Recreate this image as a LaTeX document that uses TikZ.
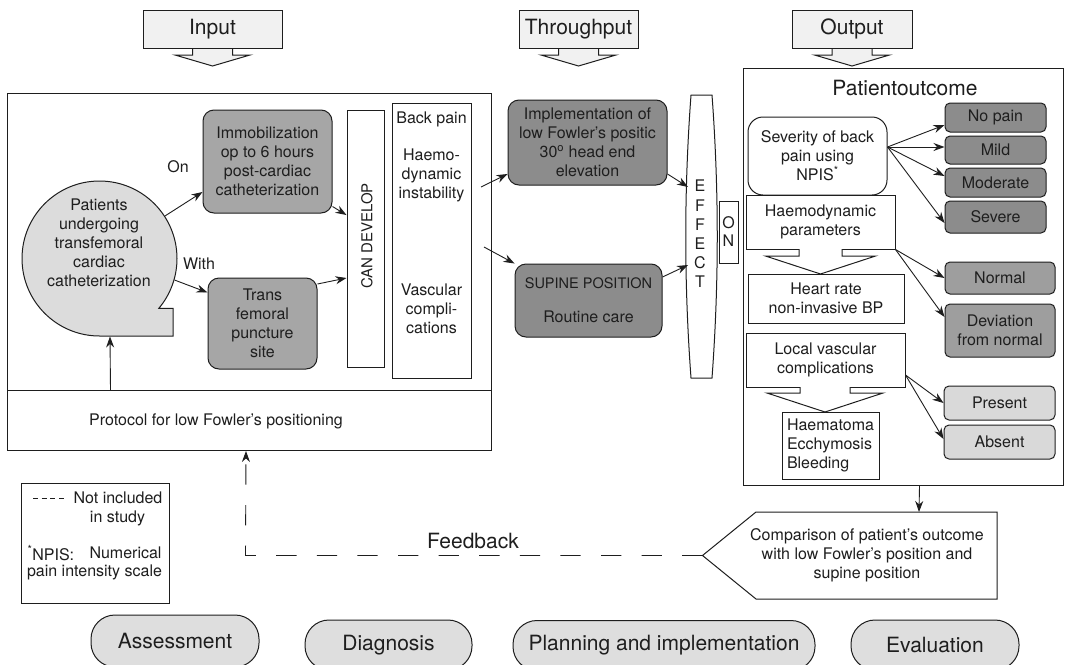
\documentclass[tikz,border=0pt]{standalone}
\usepackage{fontspec}
\setmainfont{TeX Gyre Heros}
\usetikzlibrary{arrows.meta}
\definecolor{ink}{HTML}{1E1E1E}
\definecolor{headfill}{HTML}{F1F1F1}
\definecolor{patfill}{HTML}{DCDCDC}
\definecolor{midfill}{HTML}{A6A6A6}
\definecolor{darkfill}{HTML}{8C8C8C}
\definecolor{normfill}{HTML}{9E9E9E}
\definecolor{lightfill}{HTML}{D9D9D9}
\definecolor{ovalfill}{HTML}{DEDEDE}
\tikzset{
  body/.style={font=\fontsize{16}{19}\selectfont, align=center, inner sep=0pt, text=ink},
  headtext/.style={font=\fontsize{21}{25}\selectfont, inner sep=0pt, text=ink},
  sz/.style 2 args={minimum width=#1pt, minimum height=#2pt},
  plainbox/.style={body, draw=ink, rectangle, fill=white},
  rbox/.style={plainbox, rounded corners=#1},
  rbox/.default=11pt,
  oval/.style={headtext, draw=ink, fill=ovalfill, rounded corners=24pt},
  conn/.style={draw=ink, line width=0.9pt, -{Stealth[length=11pt,width=8pt]}},
  blockarrow/.style={draw=ink, fill=white},
}
\begin{document}
\begin{tikzpicture}[x=1pt, y=-1pt, color=ink, line width=1pt]
\fill[white] (0,0) rectangle (1065,664);
\useasboundingbox (0,0) rectangle (1065,664);

% ---- phase headings with their down arrows
\foreach \cx/\w/\txt/\nm in {212.5/139/Input/hin, 578.5/119/Throughput/hthr, 852/120/Output/hout} {
  \draw[fill=headfill] (\cx-20,47) -- (\cx-20,55) -- (\cx-37.5,55) -- (\cx,66) -- (\cx+37.5,55) -- (\cx+20,55) -- (\cx+20,47);
  \node[headtext, draw, fill=headfill, sz={\w}{38}] (\nm) at (\cx,29) {\txt};
}

% ---- input frame
\node[draw, sz={484}{357}, anchor=north west, inner sep=0pt] (inframe) at (7,93) {};
\node[draw, sz={484}{60}, anchor=north west, inner sep=0pt] (protocol) at (7,390) {};
\node[body] at (216,421) {Protocol for low Fowler’s positioning};

% patients (circle with a tail)
\node[circle, minimum size=155pt, inner sep=0pt] (pat) at (99.5,258.5) {};
\draw[fill=patfill] (99.5,336) arc[start angle=90, end angle=400, radius=77.5] -- (173,308.3) -- (173,336) -- cycle;
\node[body] at (99,243) {Patients\\undergoing\\transfemoral\\cardiac\\catheterization};

\node[rbox, fill=midfill, sz={129}{103}] (immob) at (267.5,161.5) {Immobilization\\op to 6 hours\\post-cardiac\\catheterization};
\node[rbox, fill=midfill, sz={109}{91}] (trans) at (262.5,323.5) {Trans\\femoral\\puncture\\site};
\node[body] at (178,167) {On};
\node[body] at (199,264) {With};

\node[plainbox, sz={37}{257}] (can) at (365.5,238.5) {};
\node[rotate=90, font=\fontsize{15}{18}\selectfont, inner sep=0pt] at (367,236) {CAN DEVELOP};

\node[plainbox, sz={79}{275}] (bp) at (431.5,240.5) {};
\node[body] at (431.5,119) {Back pain};
\node[body] at (431.5,175) {Haemo-\\dynamic\\instability};
\node[body] at (431.5,308.5) {Vascular\\compli-\\cations};

\draw[conn] (pat.33) -- ([yshift=-30.5pt]immob.west);
\draw[conn] (pat.-16) -- ([yshift=31pt]trans.west);
\draw[conn] ([yshift=-45pt]immob.east) -- ([yshift=23.5pt]can.west);
\draw[conn] ([yshift=39.5pt]trans.east) -- ([yshift=-39.5pt]can.west);
\draw[conn] ([xshift=-139pt]protocol.north) -- ([xshift=10.5pt]pat.south);

% ---- throughput
\node[rbox, fill=darkfill, sz={159}{85}] (impl) at (587.5,142.5) {Implementation of\\low Fowler’s positic\\30\textsuperscript{o} head end\\elevation};
\node[rbox, fill=darkfill, sz={147}{73}] (supine) at (588.5,300.5) {{\fontsize{14.5}{17}\selectfont SUPINE POSITION}\\[15pt]Routine care};

\coordinate (bpa) at (481,187);
\coordinate (bpb) at (484,247);
\draw[conn] (bpa) -- ([yshift=-31.5pt]impl.west);
\draw[conn] (bpb) -- (supine.north west);

\node[minimum width=26pt, minimum height=283pt, inner sep=0pt] (effect) at (701.5,236.5) {};
\draw[fill=white] (691,95) -- (712,95) .. controls (719,190) and (719,283) .. (712,378) -- (691,378) .. controls (684,283) and (684,190) .. (691,95) -- cycle;
\node[body, font=\fontsize{16}{19.2}\selectfont] at (700,234) {E\\F\\F\\E\\C\\T};
\node[plainbox, sz={19}{62}, font=\fontsize{16}{18}\selectfont] (on) at (728.5,232) {O\\N};

\draw[conn] ([yshift=-31.5pt]impl.east) -- ([yshift=49.5pt]effect.west);
\draw[conn] ([yshift=23.5pt]supine.east) -- ([yshift=-28.5pt]effect.west);

% ---- output frame
\node[draw, sz={320}{417}, anchor=north west, inner sep=0pt] (outframe) at (743,68) {};
\node[headtext] at (905,88) {Patientoutcome};

\node[rbox=15pt, sz={139}{78}] (sev) at (817.5,156) {Severity of back\\pain using\\NPIS\textsuperscript{*}};
\node[plainbox, sz={149}{54}] (hp) at (820.5,222) {Haemodynamic\\parameters};
\draw[blockarrow] (799,249) -- (799,256) -- (765.5,256) -- (820.5,274) -- (875.5,256) -- (842,256) -- (842,249);
\node[plainbox, sz={156}{49}] (hr) at (826,298.5) {Heart rate\\non-invasive BP};
\node[plainbox, sz={159}{54}] (lv) at (825.5,360) {Local vascular\\complications};
\draw[blockarrow] (800,387) -- (800,393) -- (767,393) -- (825,412) -- (883,393) -- (850,393) -- (850,387);
\node[plainbox, sz={97}{67}, align=left] (haem) at (830.5,445.5) {Haematoma\\Ecchymosis\\Bleeding};

\node[rbox=5pt, fill=darkfill, sz={101}{29}] (nopain) at (995.5,117.5) {No pain};
\node[rbox=5pt, fill=darkfill, sz={101}{28}] (mild) at (995.5,150) {Mild};
\node[rbox=5pt, fill=darkfill, sz={101}{29}] (moderate) at (995.5,182.5) {Moderate};
\node[rbox=5pt, fill=darkfill, sz={101}{32}] (severe) at (995.5,217) {Severe};
\node[rbox=5pt, fill=normfill, sz={110}{32}] (normal) at (1000,278) {Normal};
\node[rbox=5pt, fill=normfill, sz={110}{53}] (dev) at (1000,330.5) {Deviation\\from normal};
\node[rbox=5pt, fill=lightfill, sz={111}{34}] (present) at (999.5,403) {Present};
\node[rbox=5pt, fill=lightfill, sz={111}{34}] (absent) at (999.5,442) {Absent};

\draw[conn] ([yshift=9pt]sev.east) -- ([yshift=-7.5pt]nopain.west);
\draw[conn] ([yshift=9pt]sev.east) -- ([yshift=3pt]mild.west);
\draw[conn] ([yshift=9pt]sev.east) -- ([yshift=6.5pt]moderate.west);
\draw[conn] ([yshift=9pt]sev.east) -- ([yshift=-6pt]severe.west);
\draw[conn] (hp.south east) -- (normal.west);
\draw[conn] (hp.south east) -- ([yshift=13.5pt]dev.west);
\draw[conn] ([yshift=-15pt]lv.east) -- (present.west);
\draw[conn] ([yshift=-15pt]lv.east) -- ([yshift=3pt]absent.west);

% ---- comparison and feedback
\draw[fill=white] (702.5,555.5) -- (756,512) -- (997,512) -- (997,599) -- (756,599) -- cycle;
\coordinate (cmptip) at (702.5,555.5);
\coordinate (cmptop) at (919,512);
\node[body] (cmp) at (867,555) {Comparison of patient’s outcome\\with low Fowler’s position and\\supine position};
\draw[conn] ([xshift=16pt]outframe.south) -- (cmptop);

\draw[conn, dash pattern=on 20.3pt off 20.3pt] (cmptip) -- (245.5,555.5) -- ([xshift=-3.5pt]protocol.south);
\node[headtext] at (473,541) {Feedback};

% ---- legend
\node[draw, sz={148}{120}, inner sep=0pt] (legend) at (95,543) {};
\draw[line width=0.8pt, dash pattern=on 5pt off 3.7pt] (33,498) -- (64,498);
\node[body] at (118,498) {Not included};
\node[body] at (117.5,518) {in study};
\node[body, anchor=west] at (27,553) {\textsuperscript{*}NPIS:};
\node[body, anchor=east] at (162,553) {Numerical};
\node[body] at (94.5,572) {pain intensity scale};

% ---- nursing process stages
\node[oval, sz={168}{52}] (assess) at (175,641) {Assessment};
\node[oval, sz={167}{50}] (diag) at (388.5,645) {Diagnosis};
\node[oval, sz={302}{50}] (plan) at (664,645.5) {Planning and implementation};
\node[oval, sz={168}{50}] (eval) at (935,645) {Evaluation};
\end{tikzpicture}
\end{document}
